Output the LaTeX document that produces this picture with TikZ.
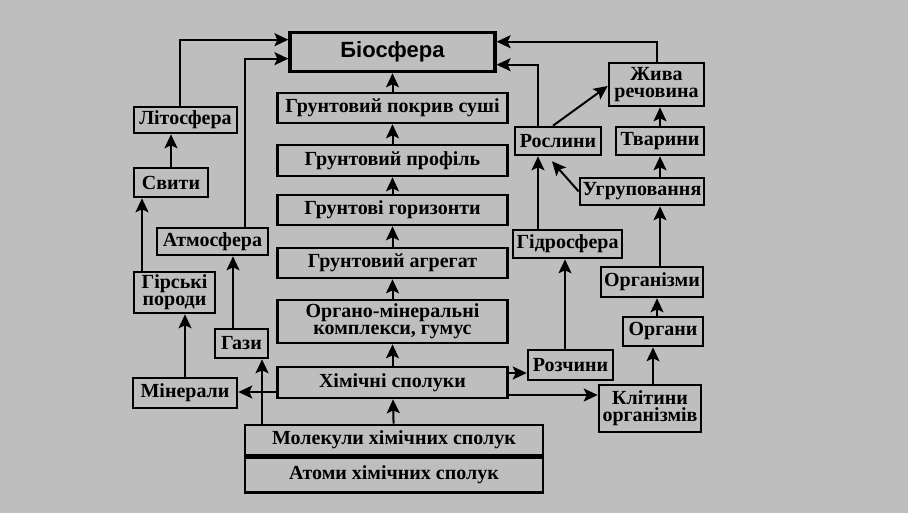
\documentclass[tikz,border=0pt]{standalone}
\usepackage{fontspec}
\setmainfont{Liberation Serif}
\newfontfamily\biofont{Liberation Sans}
\usepackage{tikz}
\usepackage{xcolor}
\usetikzlibrary{arrows.meta, positioning}
\definecolor{bggray}{RGB}{190,190,190}

\begin{document}
\begin{tikzpicture}[node distance=9.7pt, auto]

    % Define style for different elements
    \tikzstyle{box} = [rectangle, draw=black, line width=1.3pt, inner sep=1pt, align=center, font=\bfseries\fontsize{10}{8.5}\selectfont]
    \tikzstyle{column} = [box, minimum width=115pt, minimum height=15pt]
    \tikzstyle{arrow} = [line width=1pt, ->, >={Stealth[length=7pt, width=6.5pt, inset=1.5pt]}]

    % Background
    \fill [bggray] (0,0) rectangle (454pt,-256.5pt);

    % Place nodes
    \node (molek) [box, minimum width=149pt, minimum height=15pt] at (197pt,-220pt) {Молекули хімічних сполук};
    \node (atomy) [box, minimum width=149pt, minimum height=17.5pt, below=0pt of molek] {Атоми хімічних сполук};
    \node (chem) [column, minimum height=15.5pt, above=12.2pt of molek, xshift=-0.75pt] {Хімічні сполуки};
    \node (organo) [column, minimum height=21.5pt, above=10.7pt of chem] {Органо-мінеральні\\комплекси, гумус};
    \node (agreg) [column, above=of organo] {Грунтовий агрегат};
    \node (horiz) [column, above=10.2pt of agreg] {Грунтові горизонти};
    \node (profil) [column, minimum height=15.5pt, above=8.2pt of horiz] {Грунтовий профіль};
    \node (pokryv) [column, above=of profil] {Грунтовий покрив суші};
    \node (bio) [box, line width=1.6pt, minimum width=102.5pt, minimum height=19.5pt, font=\biofont\bfseries\fontsize{11}{13}\selectfont, above=9.2pt of pokryv] {Біосфера};

    \node (lito) [box, minimum width=51.5pt, minimum height=13pt] at (92.75pt,-60pt) {Літосфера};
    \node (svyty) [box, minimum width=37pt, minimum height=14.5pt] at (85.5pt,-91.25pt) {Свити};
    \node (atmo) [box, minimum width=55.5pt, minimum height=13.5pt] at (106.25pt,-120.75pt) {Атмосфера};
    \node (girski) [box, minimum width=40.5pt, minimum height=20.5pt] at (87.25pt,-146.25pt) {Гірські\\породи};
    \node (gazy) [box, minimum width=26.5pt, minimum height=14.5pt] at (120.75pt,-171.75pt) {Гази};
    \node (miner) [box, minimum width=52pt, minimum height=15pt] at (92.5pt,-196.5pt) {Мінерали};

    \node (zhyva) [box, minimum width=47.5pt, minimum height=21.5pt] at (328.25pt,-42.25pt) {Жива\\речовина};
    \node (roslyny) [box, minimum width=43pt, minimum height=14pt] at (279pt,-70.5pt) {Рослини};
    \node (tvaryny) [box, minimum width=44pt, minimum height=14pt] at (330pt,-70.5pt) {Тварини};
    \node (grup) [box, minimum width=62pt, minimum height=13.5pt] at (321pt,-95.75pt) {Угруповання};
    \node (hidro) [box, minimum width=54.5pt, minimum height=14pt] at (283.75pt,-122pt) {Гідросфера};
    \node (organizmy) [box, minimum width=51pt, minimum height=15pt] at (326pt,-141pt) {Організми};
    \node (organy) [box, minimum width=40pt, minimum height=14.5pt] at (331.5pt,-165.75pt) {Органи};
    \node (rozchyny) [box, minimum width=42.5pt, minimum height=15pt] at (285.25pt,-182.5pt) {Розчини};
    \node (klityny) [box, minimum width=51pt, minimum height=23.5pt] at (325pt,-204.25pt) {Клітини\\організмів};

    % Draw arrows
    \draw [arrow] (molek) -- (chem);
    \draw [arrow] (chem) -- (organo);
    \draw [arrow] (organo) -- (agreg);
    \draw [arrow] (agreg) -- (horiz);
    \draw [arrow] (horiz) -- (profil);
    \draw [arrow] (profil) -- (pokryv);
    \draw [arrow] (pokryv) -- (bio);

    \draw [arrow] ([xshift=-2.75pt]lito.north) |- ([yshift=6.25pt]bio.west);
    \draw [arrow] ([xshift=16.25pt]atmo.north) |- ([yshift=-3.25pt]bio.west);
    \draw [arrow] (svyty.north) -- (svyty.north |- lito.south);
    \draw [arrow] ([xshift=-16.25pt]girski.north) -- ([xshift=-16.25pt]girski.north |- svyty.south);
    \draw [arrow] (miner.north) -- (miner.north |- girski.south);
    \draw [arrow] ([xshift=-4.25pt]gazy.north) -- ([xshift=-4.25pt]gazy.north |- atmo.south);
    \draw [arrow] ([xshift=10.25pt]gazy.south |- molek.north) -- ([xshift=10.25pt]gazy.south);
    \draw [arrow] ([yshift=-4.75pt]chem.west) -- ([yshift=-4.75pt]chem.west -| miner.east);

    \draw [arrow] ([yshift=4.75pt]chem.east) -- ([yshift=4.75pt]chem.east -| rozchyny.west);
    \draw [arrow] ([yshift=-6.25pt]chem.east) -- ([yshift=-6.25pt]chem.east -| klityny.west);
    \draw [arrow] ([xshift=-2.75pt]rozchyny.north) -- ([xshift=-2.75pt]rozchyny.north |- hidro.south);
    \draw [arrow] ([xshift=-10pt]roslyny.south |- hidro.north) -- ([xshift=-10pt]roslyny.south);
    \draw [arrow] ([xshift=-10pt]roslyny.north) |- ([yshift=-6.25pt]bio.east);
    \draw [arrow] (zhyva.north) |- ([yshift=5.25pt]bio.east);
    \draw [arrow] ([xshift=-2.5pt]roslyny.north) -- ([yshift=-0.75pt]zhyva.west);
    \draw [arrow] (grup.west) -- ([xshift=-3pt,yshift=-2.5pt]roslyny.south);
    \draw [arrow] (tvaryny.north) -- (tvaryny.north |- zhyva.south);
    \draw [arrow] (tvaryny.south |- grup.north) -- (tvaryny.south);
    \draw [arrow] (tvaryny.south |- organizmy.north) -- (tvaryny.south |- grup.south);
    \draw [arrow] ([xshift=-3pt]organy.north) -- ([xshift=-3pt]organy.north |- organizmy.south);
    \draw [arrow] ([xshift=1.5pt]klityny.north) -- ([xshift=1.5pt]klityny.north |- organy.south);

\end{tikzpicture}
\end{document}
